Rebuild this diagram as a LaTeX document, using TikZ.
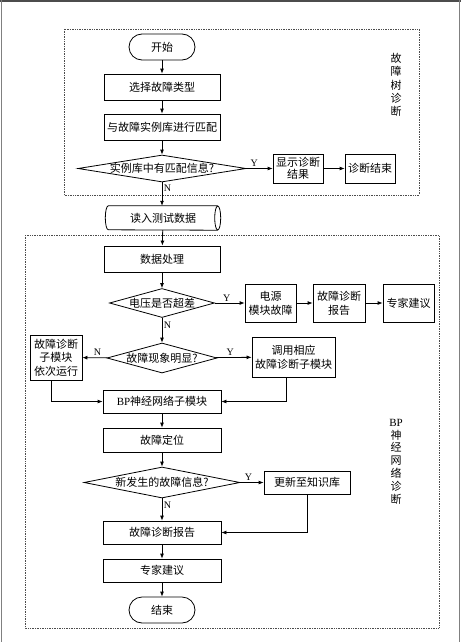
\documentclass[tikz,border=0pt]{standalone}
\usepackage{fontspec}
\setmainfont{Liberation Serif}
\newfontfamily\cjk{Noto Sans CJK SC}
\usetikzlibrary{shapes.geometric,arrows.meta}
\tikzset{
	box/.style 2 args={draw, line width=0.8pt, fill=white, inner sep=1pt, align=center,
		minimum width=#1pt, minimum height=#2pt, font=\cjk\fontsize{11}{14}\selectfont},
	term/.style 2 args={box={#1}{#2}, rounded corners=13pt},
	decision/.style 2 args={draw, diamond, line width=0.8pt, inner sep=0pt, fill=white,
		minimum width=#1pt, minimum height=#2pt},
	dtext/.style={font=\cjk\fontsize{11}{14}\selectfont, inner sep=0pt},
	yn/.style={font=\fontsize{10}{12}\selectfont, inner sep=1.5pt},
	flow/.style={-{Latex[length=5pt,width=4pt]}, line width=0.8pt},
	group/.style={densely dotted, line width=0.7pt, black!70},
	tag/.style={align=center, inner sep=0pt}
}
\begin{document}
\begin{tikzpicture}[x=1pt,y=-1pt]
		\useasboundingbox (0,0) rectangle (461,642);
		%frame
		\draw[black!70, line width=2.5pt] (0,1.25) -- (461,1.25);
		\draw[black!50, line width=1.2pt] (1.2,0) -- (1.2,642);
		\draw[black!50, line width=1.2pt] (459.8,0) -- (459.8,642);
		% groups
		\draw[group] (64,29) rectangle (419,195);
		\draw[group] (25,235) rectangle (439,628);
		\node[tag, font=\cjk\fontsize{11}{13.4}\selectfont] (ftree) at (396,85) {故\\障\\树\\诊\\断};
		\node[tag, font=\fontsize{11}{12.8}\selectfont] (fbp) at (396,461.5) {BP\\\cjk 神\\\cjk 经\\\cjk 网\\\cjk 络\\\cjk 诊\\\cjk 断};
		% fault tree part
		\node[term={66}{26}] (start) at (162,47) {开始};
		\node[box={116}{26}] (sel) at (162,87) {选择故障类型};
		\node[box={116}{26}] (match) at (162,127) {与故障实例库进行匹配};
		\node[decision={168}{27}, label={[dtext]center:实例库中有匹配信息?}] (d1) at (162,168.5) {};
		\node[box={50}{29}, font=\cjk\fontsize{11}{12.5}\selectfont] (disp) at (298,168.5) {显示诊断\\结果};
		\node[box={50}{29}] (end1) at (370,168.5) {诊断结束};
		\node[inner sep=0pt, minimum width=115pt, minimum height=24pt,
			font=\cjk\fontsize{11}{14}\selectfont] (read) at (163,218) {读入测试数据};
		\draw[line width=0.8pt] ([xshift=-3pt]read.north east) -- ([xshift=3pt]read.north west)
			arc (90:270:3pt and 12pt) -- ([xshift=-3pt]read.south east);
		\draw[line width=0.8pt] ([xshift=-3pt]read.east) ellipse (3pt and 12pt);
		% BP part
		\node[box={116}{26}] (proc) at (162,259) {数据处理};
		\node[decision={105}{29}, label={[dtext]center:电压是否超差}] (d2) at (162,303) {};
		\node[box={51}{38}] (psu) at (270.5,303) {电源\\模块故障};
		\node[box={52}{38}] (rep1) at (339,303) {故障诊断\\报告};
		\node[box={51}{38}] (adv1) at (408.5,303) {专家建议};
		\node[decision={110}{30}, label={[dtext]center:故障现象明显?}] (d3) at (162,358) {};
		\node[box={52}{45}, font=\cjk\fontsize{11}{13.5}\selectfont] (sub) at (56,357.5) {故障诊断\\子模块\\依次运行};
		\node[box={83}{40}] (call) at (293.5,357) {调用相应\\故障诊断子模块};
		\node[box={118}{23}] (bp) at (162,401.5) {\rmfamily BP\cjk 神经网络子模块};
		\node[box={118}{24}] (loc) at (162,440) {故障定位};
		\node[decision={156}{31}, label={[dtext]center:新发生的故障信息?}] (d4) at (162,482.5) {};
		\node[box={86}{23}] (upd) at (307,482.5) {更新至知识库};
		\node[box={118}{23}] (rep2) at (162,532.5) {故障诊断报告};
		\node[box={118}{23}] (adv2) at (162,570.5) {专家建议};
		\node[term={66}{26}] (end2) at (162,610) {结束};
		% connectors
		\draw[flow] (start) -- (sel);
		\draw[flow] (sel) -- (match);
		\draw[flow] (match) -- (d1);
		\draw[flow] (d1) -- node[yn, above, pos=0.3] {Y} (disp);
		\draw[flow] (disp) -- (end1);
		\draw[flow] (d1.south) -- node[yn, right, pos=0.25] {N} (read.north -| d1.south);
		\draw[flow] (read) -- (proc);
		\draw[flow] (proc) -- (d2);
		\draw[flow] (d2) -- node[yn, above, pos=0.4] {Y} (psu);
		\draw[flow] (psu) -- (rep1);
		\draw[flow] (rep1) -- (adv1);
		\draw[flow] (d2) -- node[yn, right, pos=0.3] {N} (d3);
		\draw[flow] (d3) -- node[yn, above, pos=0.4] {N} (sub);
		\draw[flow] (d3) -- node[yn, above, pos=0.4] {Y} (call);
		\draw[flow] ([xshift=-5pt]sub.south) |- (bp.west);
		\draw[flow] ([xshift=-7pt]call.south) |- (bp.east);
		\draw[flow] (bp) -- (loc);
		\draw[flow] (loc) -- (d4);
		\draw[flow] (d4) -- node[yn, above, pos=0.35] {Y} (upd);
		\draw[flow] (d4) -- node[yn, right, pos=0.3] {N} (rep2);
		\draw[flow] (upd) |- (rep2);
		\draw[flow] (rep2) -- (adv2);
		\draw[flow] (adv2) -- (end2);
\end{tikzpicture}
\end{document}
